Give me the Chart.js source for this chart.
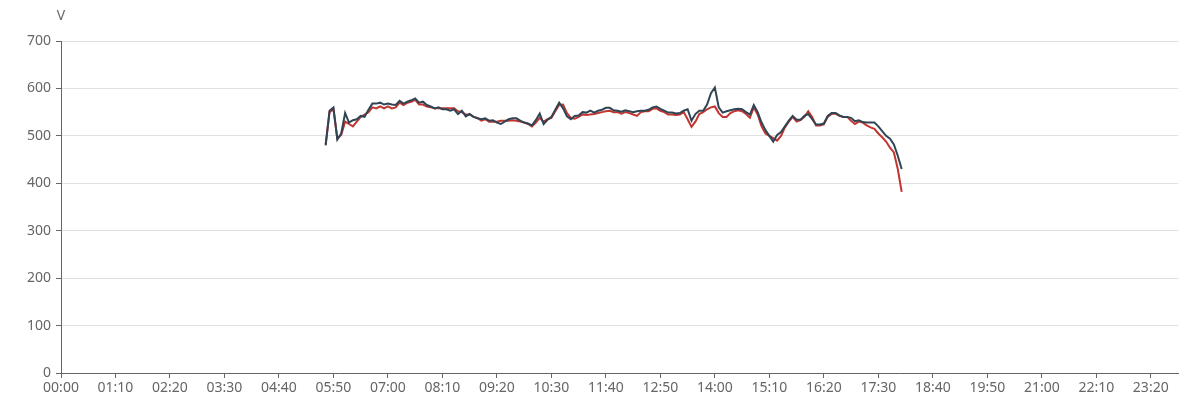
<!DOCTYPE html>
<html>
<head>
<meta charset="utf-8">
<script src="https://cdn.jsdelivr.net/npm/chart.js@4.4.1/dist/chart.umd.min.js"></script>
<style>
  html, body { margin: 0; padding: 0; background: #fff; }
  #wrap { width: 1200px; height: 414px; position: relative; }
</style>
</head>
<body>
<div id="wrap"><canvas id="myChart"></canvas></div>
<script>
// time slots every 5 minutes, 00:00 .. 23:55
var timeLabels = [];
for (var m = 0; m < 1440; m += 5) {
  var h = Math.floor(m / 60), mm = m % 60;
  timeLabels.push((h < 10 ? '0' : '') + h + ':' + (mm < 10 ? '0' : '') + mm);
}
var labelEvery = 14;          // a label every 70 minutes
var yTicks = [0, 100, 200, 300, 400, 500, 600, 700];
var unitName = 'V';

var seriesStart = '05:40';
var redValues = [
  482,550,556,495,502,530,525,520,530,540,
  545,550,560,558,562,558,562,558,560,570,
  565,570,572,576,566,566,562,560,558,558,
  558,558,558,558,552,550,545,545,540,538,
  532,535,530,530,530,532,532,532,533,532,
  530,528,525,520,528,538,530,535,538,552,
  565,566,548,538,536,540,545,544,545,546,
  548,550,552,553,550,550,547,550,548,545,
  542,550,552,552,557,558,553,550,545,545,
  544,545,550,535,519,530,546,550,556,560,
  562,548,540,540,548,552,554,552,546,538,
  560,545,520,505,500,495,490,500,518,530,
  540,530,533,540,552,540,522,522,524,540,
  546,547,542,540,540,532,525,530,528,522,
  518,515,505,497,488,475,465,430,382
];
var darkValues = [
  480,553,560,492,505,548,528,533,535,542,
  540,555,568,568,570,566,568,566,565,574,
  568,572,575,579,570,572,565,562,558,560,
  556,556,553,556,546,553,541,546,540,537,
  535,537,532,533,528,525,530,535,537,537,
  532,528,526,522,533,547,525,534,540,555,
  570,558,541,535,542,543,550,549,553,549,
  553,555,559,559,554,553,551,554,552,550,
  552,553,553,555,560,562,557,553,549,549,
  547,548,553,556,532,546,553,553,566,590,
  602,560,549,552,554,556,557,556,550,545,
  565,550,528,512,500,488,502,508,520,532,
  542,534,534,542,546,535,524,524,526,542,
  548,548,543,540,540,538,531,533,529,528,
  528,528,520,510,500,494,482,458,430
];

function padSeries(values) {
  var out = [];
  var start = timeLabels.indexOf(seriesStart);
  for (var i = 0; i < timeLabels.length; i++) {
    var k = i - start;
    out.push(k >= 0 && k < values.length ? values[k] : null);
  }
  return out;
}

// draws the unit name above the y axis
var unitPlugin = {
  id: 'unitName',
  afterDraw: function (chart) {
    var ctx = chart.ctx, area = chart.chartArea;
    ctx.save();
    ctx.fillStyle = '#666';
    ctx.font = '14px "Noto Sans", sans-serif';
    ctx.textAlign = 'center';
    ctx.textBaseline = 'middle';
    ctx.fillText(unitName, area.left, 16);
    ctx.restore();
  }
};

var ctx = document.getElementById('myChart');
var chart = new Chart(ctx, {
  type: 'line',
  data: {
    labels: timeLabels,
    datasets: [{
      label: 'A',
      data: padSeries(redValues),
      borderColor: '#c23531',
      backgroundColor: '#c23531',
      borderWidth: 2,
      pointRadius: 0,
      tension: 0,
      order: 1
    }, {
      label: 'B',
      data: padSeries(darkValues),
      borderColor: '#2f4554',
      backgroundColor: '#2f4554',
      borderWidth: 2,
      pointRadius: 0,
      tension: 0,
      order: 0
    }]
  },
  options: {
    responsive: true,
    maintainAspectRatio: false,
    animation: false,
    layout: { padding: { left: 0, right: 22, top: 41, bottom: 0 } },
    plugins: {
      legend: { display: false },
      tooltip: { enabled: false }
    },
    scales: {
      x: {
        type: 'category',
        offset: false,
        border: { display: true, color: '#666', width: 1 },
        grid: { drawOnChartArea: false, drawTicks: true, tickLength: 5, tickColor: '#666' },
        ticks: {
          autoSkip: false,
          maxRotation: 0,
          minRotation: 0,
          padding: 2,
          color: '#666',
          font: { family: '"Noto Sans", sans-serif', size: 14 },
          callback: function (val, i) {
            return i % labelEvery === 0 ? timeLabels[i] : null;
          }
        },
        afterFit: function (s) { s.height = 41; }
      },
      y: {
        min: yTicks[0],
        max: yTicks[yTicks.length - 1],
        border: { display: true, color: '#666', width: 1 },
        grid: { color: '#e0e0e0', tickColor: '#666', tickLength: 5 },
        ticks: {
          stepSize: 100,
          padding: 5,
          color: '#666',
          font: { family: '"Noto Sans", sans-serif', size: 14 }
        },
        afterFit: function (s) { s.width = 61; }
      }
    }
  },
  plugins: [unitPlugin]
});
</script>
</body>
</html>
